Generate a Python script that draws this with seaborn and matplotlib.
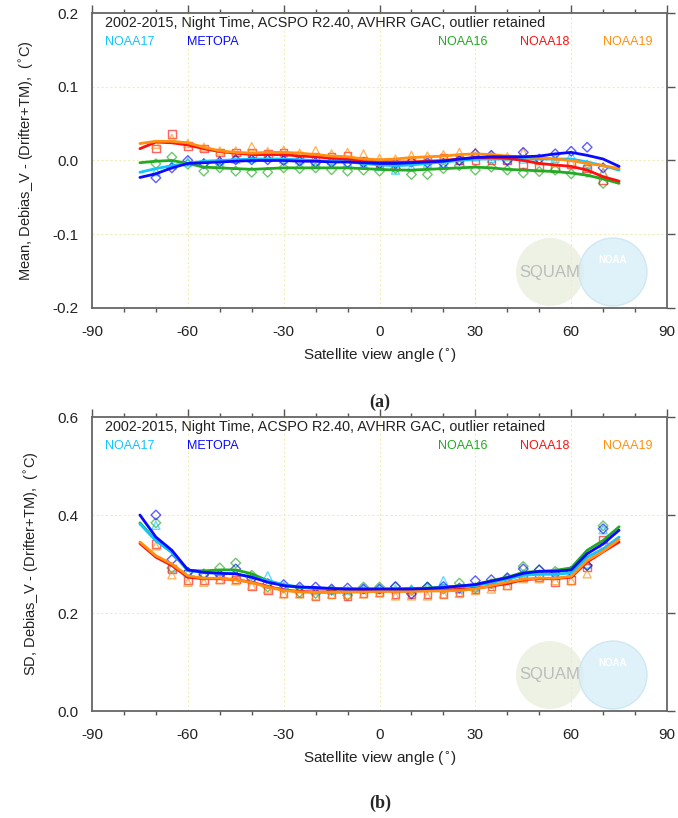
import numpy as np
import matplotlib
matplotlib.use("Agg")
import matplotlib.pyplot as plt
from matplotlib.patches import Circle
import seaborn as sns

# satellite view angle grids
angle_line = [-75, -70, -65, -60, -55, -50, -45, -40, -35, -30, -25, -20, -15, -10, -5, 0,
              5, 10, 15, 20, 25, 30, 35, 40, 45, 50, 55, 60, 65, 70, 75]
angle_pts = [-70, -65, -60, -55, -50, -45, -40, -35, -30, -25, -20, -15, -10, -5, 0,
             5, 10, 15, 20, 25, 30, 35, 40, 45, 50, 55, 60, 65, 70]

sats = ["NOAA16", "NOAA17", "NOAA18", "NOAA19", "METOPA"]
sat_colors = {"NOAA17": "#12c4ff", "METOPA": "#0a0aff", "NOAA16": "#22aa22",
              "NOAA18": "#ff1010", "NOAA19": "#ff9010"}
sat_markers = {"NOAA17": "^", "METOPA": "D", "NOAA16": "D", "NOAA18": "s", "NOAA19": "^"}
marker_sizes = {"^": 34, "D": 24, "s": 30}

# panel (a): mean, smoothed lines
mean_line = {
    "NOAA17": [-0.016, -0.011, -0.007, -0.004, -0.001, 0.000, 0.001, 0.002, 0.002, 0.002, 0.001,
               0.000, -0.001, -0.002, -0.004, -0.006, -0.007, -0.006, -0.004, -0.002, 0.000, 0.002,
               0.002, 0.002, 0.002, 0.002, 0.002, 0.002, -0.002, -0.007, -0.013],
    "METOPA": [-0.023, -0.018, -0.010, -0.004, -0.003, -0.002, -0.001, 0.000, 0.000, 0.000, -0.001,
               -0.001, -0.002, -0.002, -0.003, -0.004, -0.004, -0.003, -0.002, -0.001, 0.002, 0.004,
               0.005, 0.005, 0.005, 0.006, 0.009, 0.011, 0.007, 0.002, -0.008],
    "NOAA16": [-0.003, -0.001, 0.000, -0.004, -0.009, -0.010, -0.011, -0.012, -0.011, -0.010, -0.010,
               -0.010, -0.010, -0.010, -0.011, -0.012, -0.013, -0.013, -0.012, -0.011, -0.010, -0.009,
               -0.010, -0.012, -0.013, -0.014, -0.015, -0.017, -0.020, -0.025, -0.031],
    "NOAA18": [0.016, 0.025, 0.024, 0.021, 0.016, 0.012, 0.010, 0.008, 0.008, 0.008, 0.006,
               0.005, 0.003, 0.002, 0.000, -0.001, -0.002, -0.002, -0.001, 0.000, 0.002, 0.004,
               0.004, 0.003, 0.000, -0.004, -0.006, -0.008, -0.013, -0.022, -0.028],
    "NOAA19": [0.023, 0.026, 0.026, 0.024, 0.018, 0.013, 0.011, 0.010, 0.011, 0.011, 0.010,
               0.008, 0.006, 0.005, 0.002, 0.001, 0.002, 0.004, 0.005, 0.006, 0.008, 0.009,
               0.008, 0.006, 0.005, 0.004, 0.002, 0.000, -0.004, -0.007, -0.011],
}

# panel (a): mean, binned points
mean_pts = {
    "NOAA17": [-0.015, -0.006, -0.002, -0.003, 0.000, 0.002, 0.003, 0.004, 0.002, 0.001, -0.001,
               0.000, -0.003, -0.005, -0.008, -0.013, -0.009, -0.004, -0.004, 0.000, 0.005, 0.003,
               0.001, 0.002, 0.000, 0.003, 0.007, -0.005, -0.016],
    "METOPA": [-0.0235, -0.010, 0.000, -0.0045, -0.002, 0.001, 0.001, 0.001, 0.000, -0.001, -0.003,
               -0.003, -0.003, -0.003, -0.0045, -0.0045, -0.002, -0.003, -0.004, 0.000, 0.009, 0.007,
               0.000, 0.011, 0.002, 0.009, 0.0125, 0.018, -0.010],
    "NOAA16": [-0.0045, 0.0045, -0.005, -0.0145, -0.010, -0.0145, -0.016, -0.016, -0.010, -0.011, -0.010,
               -0.0125, -0.0145, -0.013, -0.0145, -0.011, -0.019, -0.019, -0.011, -0.007, -0.013, -0.009,
               -0.013, -0.017, -0.015, -0.013, -0.018, -0.016, -0.031],
    "NOAA18": [0.016, 0.036, 0.020, 0.016, 0.011, 0.011, 0.010, 0.009, 0.011, 0.007, 0.005,
               0.005, 0.007, 0.000, -0.0045, -0.007, 0.000, 0.000, 0.003, 0.001, 0.000, 0.001,
               0.000, -0.0045, -0.009, -0.011, -0.0045, -0.011, -0.027],
    "NOAA19": [0.022, 0.030, 0.023, 0.018, 0.013, 0.013, 0.019, 0.012, 0.014, 0.010, 0.0135,
               0.009, 0.011, 0.009, 0.003, 0.002, 0.007, 0.006, 0.008, 0.011, 0.011, 0.007,
               0.005, 0.011, 0.000, -0.003, -0.003, -0.009, -0.016],
}

# panel (b): standard deviation, smoothed lines
sd_line = {
    "NOAA17": [0.382, 0.348, 0.324, 0.287, 0.283, 0.281, 0.280, 0.273, 0.266, 0.258, 0.253,
               0.251, 0.250, 0.249, 0.248, 0.248, 0.248, 0.249, 0.250, 0.252, 0.254, 0.256,
               0.262, 0.269, 0.277, 0.279, 0.279, 0.282, 0.314, 0.331, 0.355],
    "METOPA": [0.400, 0.355, 0.328, 0.288, 0.283, 0.281, 0.280, 0.273, 0.263, 0.256, 0.253,
               0.252, 0.250, 0.249, 0.249, 0.249, 0.249, 0.249, 0.250, 0.252, 0.255, 0.258,
               0.265, 0.272, 0.281, 0.285, 0.285, 0.288, 0.321, 0.341, 0.369],
    "NOAA16": [0.384, 0.348, 0.324, 0.287, 0.286, 0.288, 0.288, 0.280, 0.266, 0.256, 0.252,
               0.250, 0.249, 0.249, 0.249, 0.249, 0.249, 0.250, 0.251, 0.253, 0.255, 0.258,
               0.266, 0.273, 0.283, 0.285, 0.287, 0.292, 0.328, 0.348, 0.376],
    "NOAA18": [0.342, 0.314, 0.297, 0.273, 0.270, 0.270, 0.268, 0.263, 0.254, 0.247, 0.244,
               0.243, 0.243, 0.243, 0.244, 0.245, 0.245, 0.245, 0.246, 0.247, 0.248, 0.250,
               0.255, 0.260, 0.268, 0.270, 0.270, 0.273, 0.304, 0.325, 0.345],
    "NOAA19": [0.345, 0.317, 0.300, 0.276, 0.271, 0.271, 0.268, 0.262, 0.253, 0.246, 0.243,
               0.242, 0.242, 0.243, 0.243, 0.244, 0.244, 0.244, 0.245, 0.245, 0.246, 0.249,
               0.256, 0.263, 0.269, 0.271, 0.271, 0.275, 0.307, 0.326, 0.350],
}

# panel (b): standard deviation, binned points
sd_pts = {
    "NOAA17": [0.379, 0.292, 0.283, 0.279, 0.279, 0.280, 0.270, 0.276, 0.254, 0.251, 0.246,
               0.247, 0.246, 0.249, 0.249, 0.249, 0.249, 0.253, 0.266, 0.249, 0.253, 0.260,
               0.266, 0.280, 0.280, 0.279, 0.282, 0.300, 0.370],
    "METOPA": [0.400, 0.309, 0.283, 0.278, 0.278, 0.290, 0.270, 0.260, 0.258, 0.253, 0.253,
               0.249, 0.251, 0.249, 0.249, 0.254, 0.239, 0.253, 0.254, 0.251, 0.266, 0.268,
               0.272, 0.290, 0.288, 0.280, 0.285, 0.297, 0.372],
    "NOAA16": [0.384, 0.292, 0.283, 0.280, 0.292, 0.302, 0.277, 0.253, 0.251, 0.242, 0.240,
               0.246, 0.236, 0.253, 0.253, 0.253, 0.246, 0.253, 0.249, 0.261, 0.251, 0.260,
               0.270, 0.295, 0.288, 0.285, 0.285, 0.297, 0.378],
    "NOAA18": [0.341, 0.290, 0.266, 0.266, 0.270, 0.268, 0.254, 0.247, 0.240, 0.240, 0.235,
               0.239, 0.235, 0.240, 0.242, 0.239, 0.238, 0.239, 0.238, 0.242, 0.249, 0.254,
               0.256, 0.273, 0.273, 0.262, 0.267, 0.293, 0.350],
    "NOAA19": [0.337, 0.278, 0.263, 0.263, 0.268, 0.266, 0.256, 0.249, 0.239, 0.239, 0.235,
               0.238, 0.238, 0.239, 0.241, 0.235, 0.235, 0.235, 0.239, 0.240, 0.246, 0.249,
               0.256, 0.270, 0.270, 0.266, 0.266, 0.280, 0.341],
}

label_order = ["NOAA17", "METOPA", "NOAA16", "NOAA18", "NOAA19"]
label_x = [0.022, 0.165, 0.601, 0.744, 0.888]
title_text = "2002-2015, Night Time, ACSPO R2.40, AVHRR GAC, outlier retained"
x_ticks = [-90, -60, -30, 0, 30, 60, 90]

sns.set_theme(style="white")
plt.rcParams["font.family"] = ["Liberation Sans", "DejaVu Sans"]
plt.rcParams["axes.unicode_minus"] = False

fig = plt.figure(figsize=(6.78, 8.18), dpi=100)
ax1 = fig.add_axes([0.1357, 0.6235, 0.8481, 0.3606])
ax2 = fig.add_axes([0.1357, 0.1308, 0.8481, 0.3594])


def draw_logos(yc):
    # faint SQUAM / NOAA watermarks (approximate)
    h = 8.18
    globe = Circle((5.50, h - yc), 0.34, transform=fig.dpi_scale_trans,
                   facecolor="#e9eedc", edgecolor="none", alpha=0.75, zorder=0)
    noaa = Circle((6.13, h - yc), 0.34, transform=fig.dpi_scale_trans,
                  facecolor="#d8eef8", edgecolor="#c8e4f2", lw=1, alpha=0.8, zorder=0)
    fig.add_artist(globe)
    fig.add_artist(noaa)
    fig.text(5.50 / 6.78, (h - yc) / h, "SQUAM", color="#bcbcbc", fontsize=12,
             ha="center", va="center", zorder=1)
    fig.text(6.13 / 6.78, (h - yc + 0.12) / h, "NOAA", color="white", fontsize=7,
             fontweight="bold", ha="center", va="center", zorder=1)


def style_panel(ax, ylim, yticks, ylabel, line_data, pt_data):
    for s in sats:
        c = sat_colors[s]
        m = sat_markers[s]
        sns.lineplot(x=angle_line, y=line_data[s], color=c, linewidth=2.0, ax=ax, zorder=4)
        sns.scatterplot(x=angle_pts, y=pt_data[s], marker=m, s=marker_sizes[m],
                        facecolor="none", edgecolor=c, linewidth=1.0, alpha=0.65,
                        ax=ax, zorder=3)
    ax.set_xlim(-90, 90)
    ax.set_ylim(*ylim)
    ax.set_xticks(x_ticks)
    ax.set_xticklabels([str(t) for t in x_ticks])
    ax.set_xticks(np.arange(-90, 91, 10), minor=True)
    ax.set_yticks(yticks)
    ax.set_yticklabels(["%.1f" % t for t in yticks])
    ax.patch.set_alpha(0)
    for t in x_ticks[1:-1]:
        ax.axvline(t, color="#eeeebb", lw=0.8, ls=(0, (2, 2)), zorder=1)
    for t in yticks[1:-1]:
        ax.axhline(t, color="#eeeebb", lw=0.8, ls=(0, (2, 2)), zorder=1)
    for sp in ax.spines.values():
        sp.set_color("#666666")
        sp.set_linewidth(1.3)
    ax.tick_params(axis="both", which="major", direction="out", length=6, width=1,
                   color="#555555", labelsize=11, labelcolor="#222222",
                   top=True, right=True)
    ax.tick_params(axis="x", which="minor", direction="out", length=3, width=1,
                   color="#555555", top=True, bottom=True)
    ax.tick_params(axis="x", which="major", pad=6)
    ax.set_xlabel("Satellite view angle ($^{\\circ}$)", fontsize=11, color="#222222", labelpad=6)
    ax.set_ylabel(ylabel, fontsize=10.5, color="#222222", labelpad=12)
    ax.text(0.022, 0.966, title_text, transform=ax.transAxes, fontsize=10.4,
            color="#222222", ha="left", va="center")
    for name, xf in zip(label_order, label_x):
        ax.text(xf, 0.902, name, transform=ax.transAxes, fontsize=9,
                color=sat_colors[name], ha="left", va="center")


draw_logos(2.72)
draw_logos(6.75)

style_panel(ax1, (-0.2, 0.2), [-0.2, -0.1, 0.0, 0.1, 0.2],
            "Mean, Debias_V - (Drifter+TM),  ($^{\\circ}$C)", mean_line, mean_pts)
style_panel(ax2, (0.0, 0.6), [0.0, 0.2, 0.4, 0.6],
            "SD, Debias_V - (Drifter+TM),  ($^{\\circ}$C)", sd_line, sd_pts)

fig.text(380 / 678, 1 - 402 / 818, "(a)", fontsize=13, fontweight="bold",
         family=["Liberation Serif", "DejaVu Serif"], ha="center", va="center")
fig.text(380 / 678, 1 - 803 / 818, "(b)", fontsize=13, fontweight="bold",
         family=["Liberation Serif", "DejaVu Serif"], ha="center", va="center")

fig.savefig("out.png", dpi=100, facecolor="white")
